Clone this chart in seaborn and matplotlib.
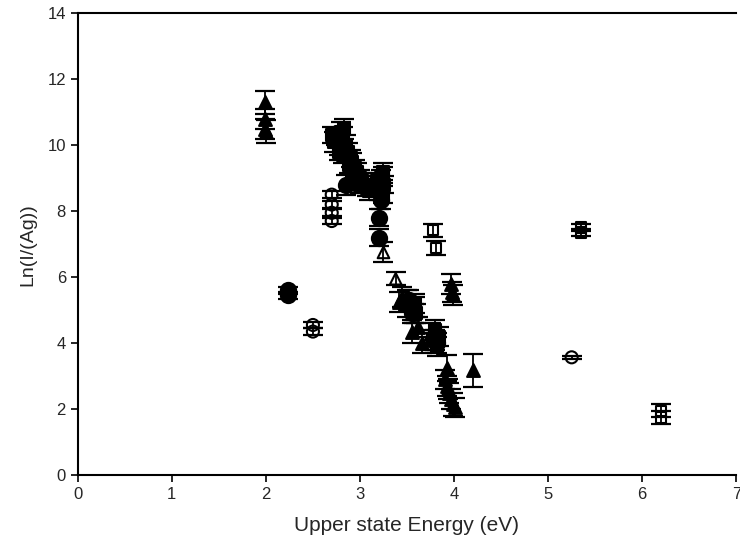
import numpy as np
import pandas as pd
import matplotlib
matplotlib.use("Agg")
import matplotlib.pyplot as plt
import seaborn as sns

# ---- data ----
# filled triangles
tri_x = [1.99, 1.99, 1.99, 2.00, 3.42, 3.45, 3.55, 3.58, 3.62, 3.66, 3.97, 3.98, 3.99,
         3.92, 3.90, 3.93, 3.95, 3.97, 3.99, 4.01, 3.94, 4.20, 3.50, 3.57, 3.75, 3.80]
tri_y = [11.3, 10.8, 10.5, 10.4, 5.25, 5.4, 4.35, 5.1, 4.5, 4.0, 5.8, 5.55, 5.45,
         3.25, 2.9, 2.7, 2.5, 2.3, 2.15, 2.05, 2.6, 3.18, 5.2, 4.9, 4.3, 4.1]
tri_e = [0.35, 0.3, 0.3, 0.35, 0.3, 0.3, 0.35, 0.3, 0.3, 0.3, 0.3, 0.3, 0.3,
         0.4, 0.3, 0.3, 0.3, 0.3, 0.35, 0.3, 0.3, 0.5, 0.4, 0.3, 0.3, 0.3]

# open triangles
otri_x = [3.25, 3.38]
otri_y = [6.75, 5.95]
otri_e = [0.3, 0.2]

# filled squares (dense cluster)
sq_x = [2.70, 2.72, 2.75, 2.78, 2.80, 2.82, 2.83, 2.85, 2.87, 2.90, 2.92, 2.95, 2.97,
        3.00, 3.02, 3.05, 3.08, 3.10, 3.12, 3.15, 3.18, 3.20, 3.22, 3.24, 3.25, 3.26,
        3.25, 2.78, 2.82, 2.88, 2.95, 3.00, 3.80, 3.78, 3.84, 3.82, 3.58, 3.60]
sq_y = [10.3, 10.1, 10.25, 10.0, 10.4, 10.3, 10.5, 10.0, 9.8, 9.6, 9.5, 9.3, 9.2,
        9.0, 8.9, 8.8, 8.7, 8.6, 8.8, 8.7, 8.9, 8.6, 9.0, 9.2, 9.1, 8.8,
        8.5, 9.8, 9.7, 9.4, 9.0, 8.8, 4.4, 4.1, 4.2, 3.9, 5.2, 4.9]
sq_e = [0.25, 0.3, 0.25, 0.3, 0.3, 0.25, 0.3, 0.3, 0.25, 0.25, 0.25, 0.25, 0.25,
        0.25, 0.25, 0.25, 0.25, 0.25, 0.25, 0.25, 0.25, 0.25, 0.25, 0.25, 0.25, 0.25,
        0.25, 0.25, 0.25, 0.25, 0.25, 0.25, 0.3, 0.3, 0.3, 0.3, 0.3, 0.3]

# filled circles
circ_x = [2.23, 2.23, 2.85, 3.20, 3.20, 3.22, 3.52, 3.55, 3.82]
circ_y = [5.6, 5.45, 8.8, 7.8, 7.2, 8.35, 5.3, 4.9, 4.0]
circ_e = [0.1, 0.1, 0.3, 0.25, 0.25, 0.3, 0.3, 0.3, 0.3]

# open circles
ocirc_x = [2.70, 2.70, 2.70, 2.70, 2.50, 2.50, 5.25]
ocirc_y = [8.5, 8.2, 7.95, 7.7, 4.55, 4.35, 3.57]
ocirc_e = [0.1, 0.1, 0.1, 0.1, 0.1, 0.1, 0.05]

# open squares
osq_x = [3.78, 3.81, 5.35, 5.35, 6.20, 6.20]
osq_y = [7.42, 6.88, 7.5, 7.35, 1.95, 1.75]
osq_e = [0.2, 0.2, 0.1, 0.1, 0.2, 0.2]

x_ticks = [0, 1, 2, 3, 4, 5, 6, 7]
y_ticks = [0, 2, 4, 6, 8, 10, 12, 14]

# ---- plot ----
sns.set_theme(style="ticks")
plt.rcParams['font.family'] = ['Liberation Sans', 'DejaVu Sans']

fig = plt.figure(figsize=(7.4, 5.48), dpi=100)
ax = fig.add_axes([0.105, 0.133, 0.89, 0.843])

series = [
    (tri_x, tri_y, tri_e, "^", "black", 85),
    (otri_x, otri_y, otri_e, "^", "none", 70),
    (sq_x, sq_y, sq_e, "s", "black", 80),
    (circ_x, circ_y, circ_e, "o", "black", 120),
    (ocirc_x, ocirc_y, ocirc_e, "o", "none", 75),
    (osq_x, osq_y, osq_e, "s", "none", 55),
]

for xs, ys, es, m, fc, s in series:
    ax.errorbar(xs, ys, yerr=es, fmt="none", ecolor="black", elinewidth=1.3,
                capsize=7, capthick=1.6, zorder=2)
    df = pd.DataFrame({"x": xs, "y": ys})
    sns.scatterplot(data=df, x="x", y="y", marker=m, s=s, facecolor=fc,
                    edgecolor="black", linewidth=1.5, ax=ax, zorder=3, legend=False)

ax.set_xlim(0, 7)
ax.set_ylim(0, 14)
ax.set_xticks(x_ticks)
ax.set_yticks(y_ticks)
ax.set_xticklabels([str(v) for v in x_ticks], fontsize=12)
ax.set_yticklabels([str(v) for v in y_ticks], fontsize=12)
ax.tick_params(direction="out", length=5, width=1.2, color="black")
ax.set_xlabel("Upper state Energy (eV)", fontsize=15, labelpad=10)
ax.set_ylabel("Ln(I/(Ag))", fontsize=14, labelpad=8)
for sp in ["left", "bottom", "top"]:
    ax.spines[sp].set_visible(True)
    ax.spines[sp].set_color("black")
    ax.spines[sp].set_linewidth(1.5)
ax.spines["right"].set_visible(False)

fig.savefig("out.png", dpi=100)
